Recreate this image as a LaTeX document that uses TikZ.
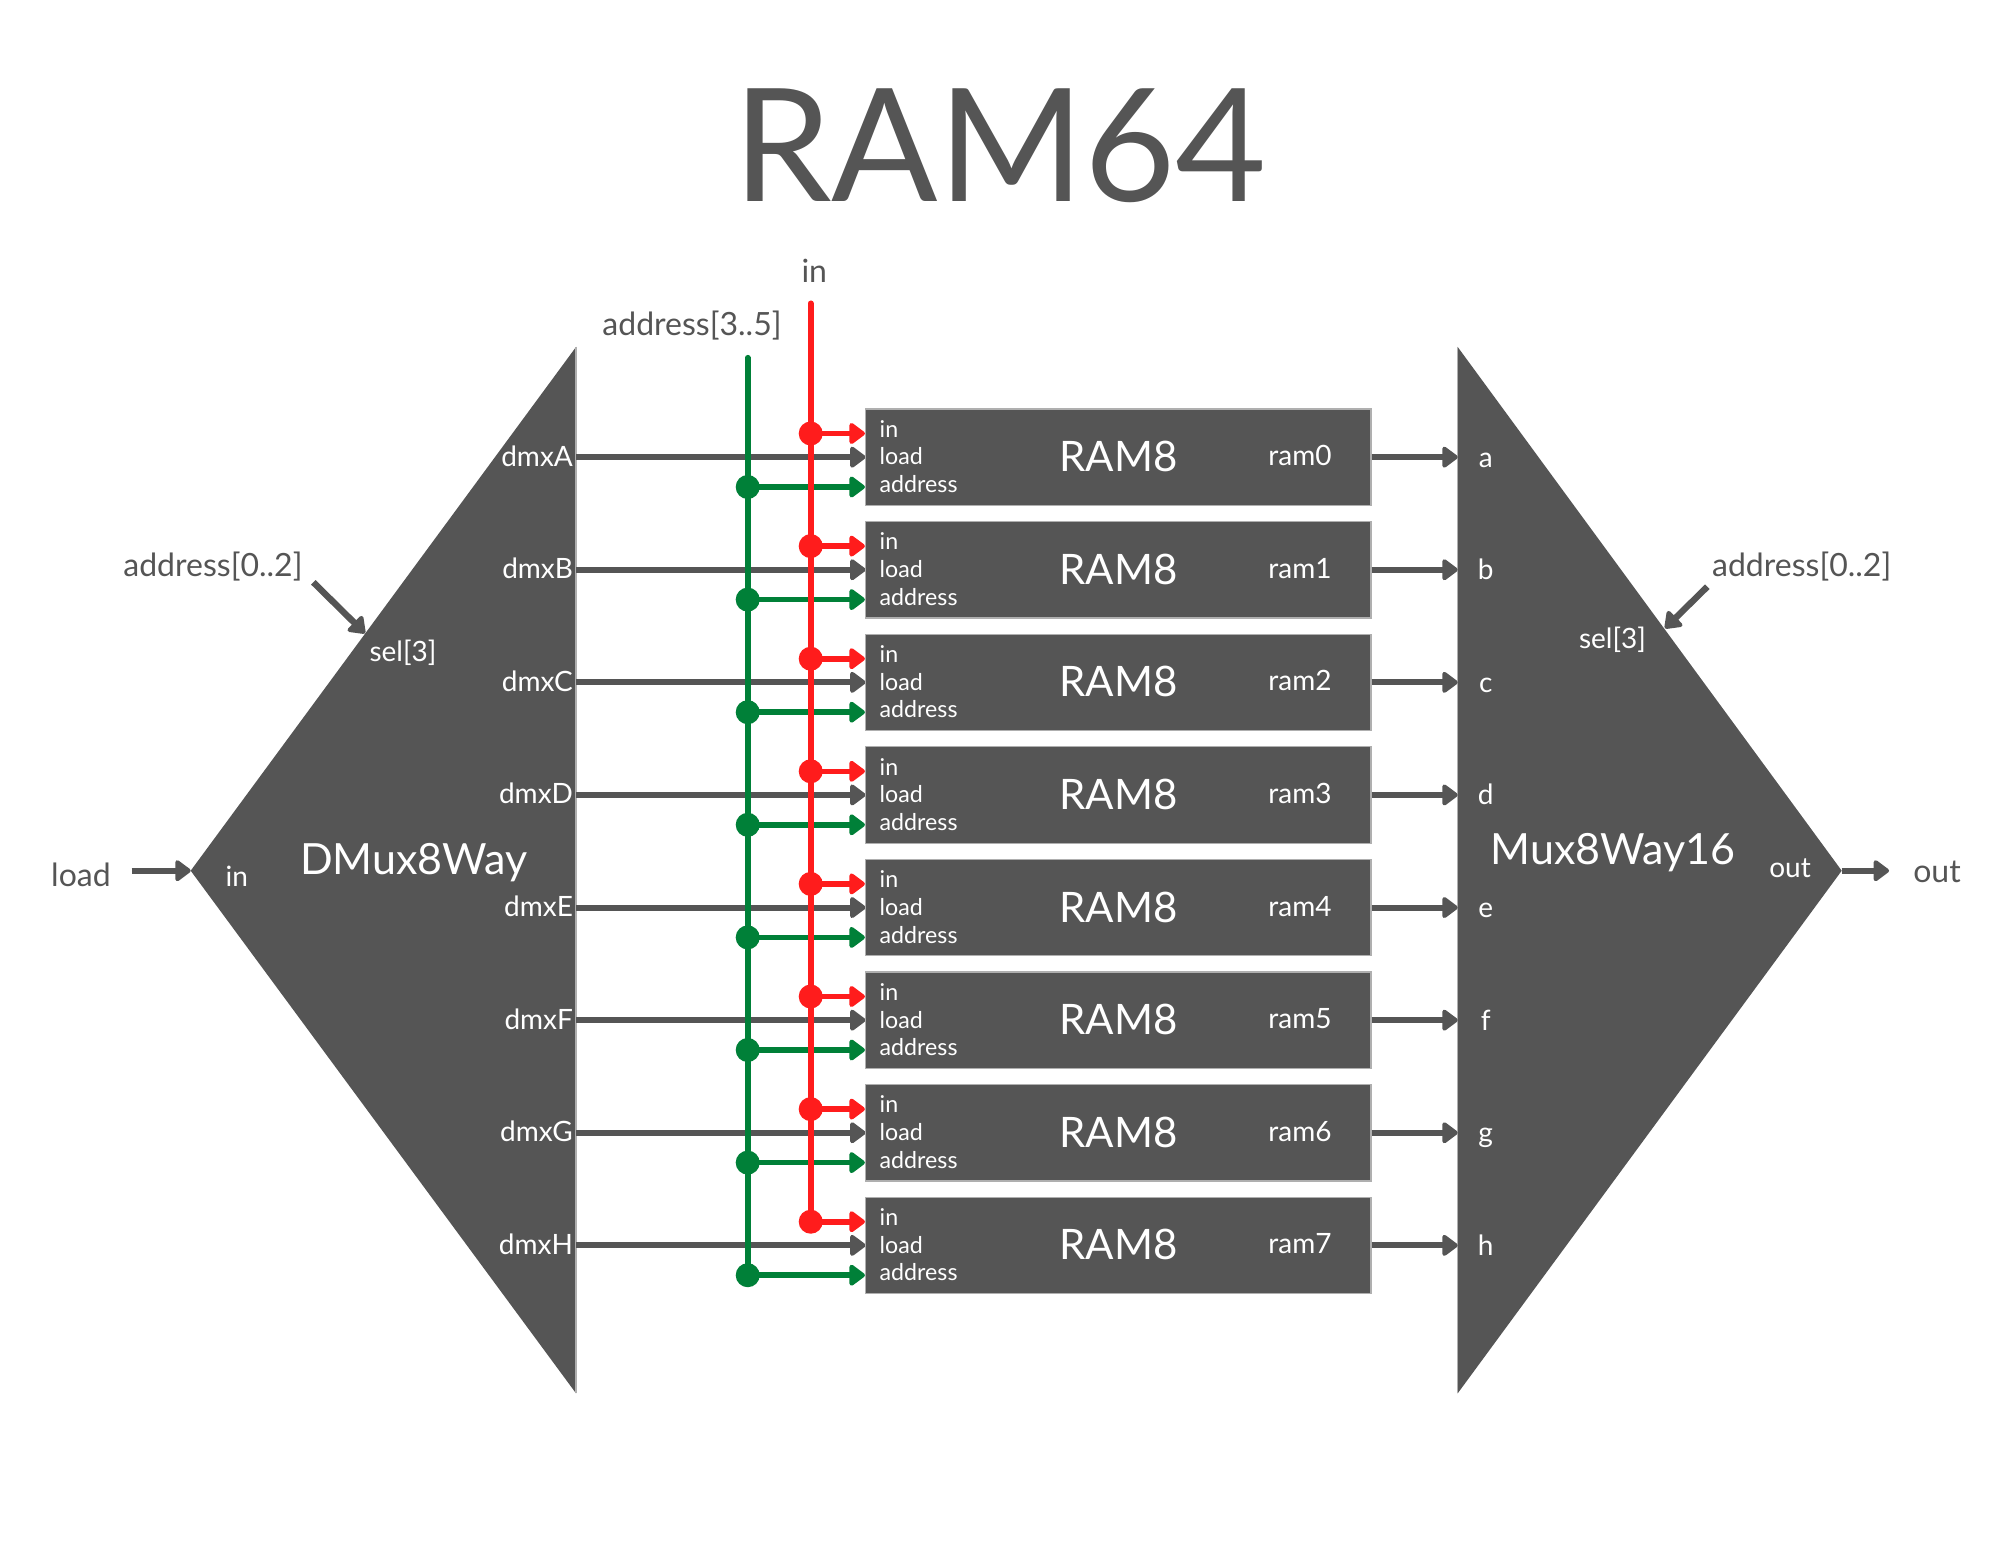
\documentclass[tikz,border=0pt]{standalone}
\usepackage{fontspec}
\setmainfont{Lato}
\usetikzlibrary{arrows.meta}
\definecolor{dk}{RGB}{85,85,85}
\definecolor{edgec}{RGB}{175,175,175}
\definecolor{rd}{RGB}{255,28,28}
\definecolor{gr}{RGB}{0,128,56}
\newcommand\myfs[1]{\fontsize{#1}{#1}\selectfont}
\begin{document}
\begin{tikzpicture}[x=0.5pt,y=-0.5pt,
  blk/.style={fill=dk, draw=edgec, line width=0.6pt},
  rambox/.style={blk, minimum width=252.75pt, minimum height=48.15pt, inner sep=0pt},
  wire/.style={line width=2.8pt},
  gw/.style={wire, draw=dk, line width=3pt},
  rw/.style={wire, draw=rd, line cap=round},
  grw/.style={wire, draw=gr, line cap=round},
  tipa/.style={-{Triangle[length=8.5pt,width=12pt,round]}},
  rdot/.style={circle, fill=rd, inner sep=0pt, minimum size=12pt},
  gdot/.style={circle, fill=gr, inner sep=0pt, minimum size=12pt},
  outl/.style={text=dk, font=\myfs{16pt}, inner sep=0pt},
  inl/.style={text=white, font=\myfs{14pt}, inner sep=0pt},
  portl/.style={text=white, font=\myfs{11.6pt}, inner sep=0pt, anchor=base west},
  bigl/.style={text=white, font=\myfs{21.5pt}, inner sep=0pt, anchor=base}
]
\useasboundingbox (0,0) rectangle (2000,1545);
\fill[white] (0,0) rectangle (2000,1545);

% title
\node[anchor=base, text=dk, font=\myfs{78.7pt}, inner sep=0pt] (title) at (1000,201.5) {RAM64};

% DMux8Way shape
\coordinate (dmT) at (576,347);
\coordinate (dmB) at (576,1393.3);
\coordinate (dmL) at (190.7,870.7);
\fill[dk] (dmT) -- (dmB) -- (dmL) -- cycle;
\draw[edgec, line width=0.6pt] (dmT) -- (dmB);

% Mux8Way16 shape
\coordinate (mxT) at (1457.7,347);
\coordinate (mxB) at (1457.7,1393.3);
\coordinate (mxR) at (1841.7,870.7);
\fill[dk] (mxT) -- (mxB) -- (mxR) -- cycle;
\draw[edgec, line width=0.6pt] (mxT) -- (mxB);

% RAM8 boxes, load lines, outputs
\foreach \k/\U/\l in {0/A/a,1/B/b,2/C/c,3/D/d,4/E/e,5/F/f,6/G/g,7/H/h}{
  \pgfmathsetmacro{\rtop}{409+112.6*\k}
  \pgfmathsetmacro{\rc}{\rtop+48.15}
  \draw[gw, tipa] (576,\rc) -- (865.5,\rc);
  \node[rambox] (ram\k) at (1118.25,\rc) {};
  \draw[gw, tipa] (ram\k.east) -- (ram\k.east -| mxT);
  \node[portl] (pin\k) at (879.3,\rtop+28.3) {in};
  \node[portl] (pld\k) at (879.3,\rtop+56) {load};
  \node[portl] (pad\k) at (879.3,\rtop+83.7) {address};
  \node[bigl, font=\myfs{21pt}] (rl\k) at (1118.6,\rc+14.5) {RAM8};
  \node[inl, anchor=base] (rn\k) at (1300,\rc+8.5) {ram\k};
  \node[inl, anchor=base east] (dmx\k) at (573.3,\rc+9) {dmx\U};
  \node[inl, anchor=base] (mxi\k) at (1485.7,\rc+10) {\l};
}

% green address bus
\foreach \k in {0,...,7}{
  \pgfmathsetmacro{\rtop}{409+112.6*\k}
  \node[gdot] (gd\k) at (747.7,\rtop+78) {};
  \draw[grw, tipa] (gd\k.center) -- (gd\k.center -| ram\k.west);
}
\coordinate (gtop) at (747.7,357.7);
\draw[grw] (gtop) -- (gd7.center);

% red in bus
\foreach \k in {0,...,7}{
  \pgfmathsetmacro{\rtop}{409+112.6*\k}
  \node[rdot] (rd\k) at (810.7,\rtop+24.5) {};
  \draw[rw, tipa] (rd\k.center) -- (rd\k.center -| ram\k.west);
}
\coordinate (rtopc) at (810.7,303.3);
\draw[rw] (rtopc) -- (rd7.center);

% top labels
\node[outl, anchor=base] (inlbl) at (814.3,282.3) {in};
\node[outl, anchor=base] (adrlbl) at (692,336) {address[3..5]};

% left side
\node[outl, anchor=base] (loadlbl) at (81,886) {load};
\coordinate (loadst) at (131.7,870.7);
\draw[gw, tipa] (loadst) -- (dmL);
\node[inl, anchor=base] (dmin) at (236.7,886) {in};
\node[bigl] (dmname) at (414,874) {DMux8Way};
\node[outl, anchor=base] (adl) at (213,576.7) {address[0..2]};
\coordinate (adlst) at (313.3,582.3);
\coordinate (adlen) at (365,633.3);
\draw[gw, line width=3.2pt, tipa] (adlst) -- (adlen);
\node[inl, anchor=base] (sell) at (403,661.7) {sel[3]};

% right side
\node[bigl] (mxname) at (1613,864) {Mux8Way16};
\node[inl, anchor=base] (mxout) at (1790,877) {out};
\coordinate (outen) at (1889,870.7);
\draw[gw, tipa] (mxR) -- (outen);
\node[outl, anchor=base] (outlbl) at (1937,882) {out};
\node[outl, anchor=base] (adr) at (1801.7,576.7) {address[0..2]};
\coordinate (adrst) at (1707.3,586.7);
\coordinate (adren) at (1665,628.3);
\draw[gw, line width=3.2pt, tipa] (adrst) -- (adren);
\node[inl, anchor=base] (selr) at (1612.5,648.3) {sel[3]};
\end{tikzpicture}
\end{document}
